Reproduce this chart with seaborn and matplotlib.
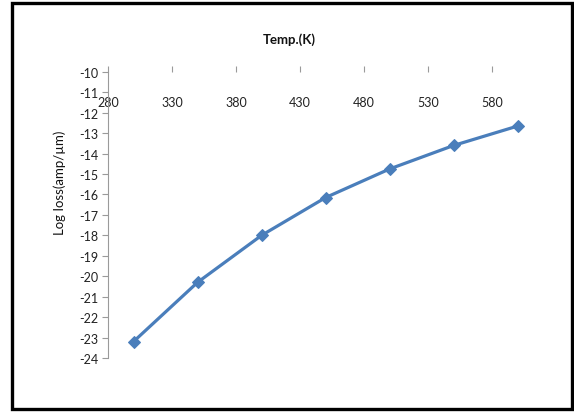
import matplotlib
matplotlib.use("Agg")
import matplotlib.pyplot as plt
import matplotlib.patches as mpatches
import seaborn as sns
import pandas as pd

# Temperature sweep and the log of the leakage current
temps = [300, 350, 400, 450, 500, 550, 600]
log_ioss = [-23.2, -20.3, -18.0, -16.15, -14.75, -13.6, -12.65]

x_ticks = [280, 330, 380, 430, 480, 530, 580]
y_ticks = list(range(-24, -9))

sns.set_theme(style="white")
plt.rcParams["font.family"] = ["Lato", "DejaVu Sans"]

df = pd.DataFrame({"temp": temps, "log_i": log_ioss})

fig = plt.figure(figsize=(5.74, 4.14), dpi=100)
ax = fig.add_axes([0.188, 0.133, 0.781, 0.691])

sns.lineplot(data=df, x="temp", y="log_i", ax=ax, color="#4a7ebb",
             linewidth=2.3, marker="D", markersize=6.5,
             markeredgecolor="#4a7ebb", markerfacecolor="#4a7ebb")

ax.set_xlim(280, 630)
ax.set_ylim(-24, -10)
ax.set_xticks(x_ticks)
ax.set_yticks(y_ticks)
ax.set_xticklabels([str(v) for v in x_ticks])
ax.set_yticklabels([str(v).replace("\u2212", "-") for v in y_ticks])
ax.set_xlabel("")
ax.set_ylabel("")

for side in ["top", "right", "bottom"]:
    ax.spines[side].set_visible(False)
ax.spines["left"].set_color("#9a9a9a")
ax.spines["left"].set_linewidth(0.8)
ax.spines["left"].set_zorder(1)

# horizontal axis sits at the top, tick marks point up, labels hang below
ax.xaxis.set_ticks_position("top")
ax.tick_params(axis="x", which="both", top=True, bottom=False,
               labeltop=True, labelbottom=False, direction="out",
               length=4, width=0.8, color="#9a9a9a", pad=-30,
               labelsize=9, labelcolor="#222222")
ax.tick_params(axis="y", which="both", left=True, direction="out",
               length=4, width=0.8, color="#9a9a9a", pad=3,
               labelsize=9, labelcolor="#222222")
for lbl in ax.get_xticklabels():
    lbl.set_verticalalignment("bottom")
    lbl.set_bbox(dict(facecolor="white", edgecolor="none", pad=0.5))
    lbl.set_zorder(3)

fig.text(0.504, 1 - 40 / 414, "Temp.(K)", ha="center", va="center",
         fontsize=9.5, fontweight="bold", color="#111111")
fig.text(60 / 574, 1 - 183 / 414, "Log Ioss(amp/\u00b5m)", ha="center",
         va="center", rotation=90, fontsize=9.5, color="#111111")

# outer frame around the whole chart
frame = mpatches.Rectangle((12 / 574, 4 / 414), 560 / 574, 406 / 414,
                           transform=fig.transFigure, fill=False,
                           edgecolor="black", linewidth=2.4)
fig.patches.append(frame)

fig.savefig("out.png", dpi=100, facecolor="white")
